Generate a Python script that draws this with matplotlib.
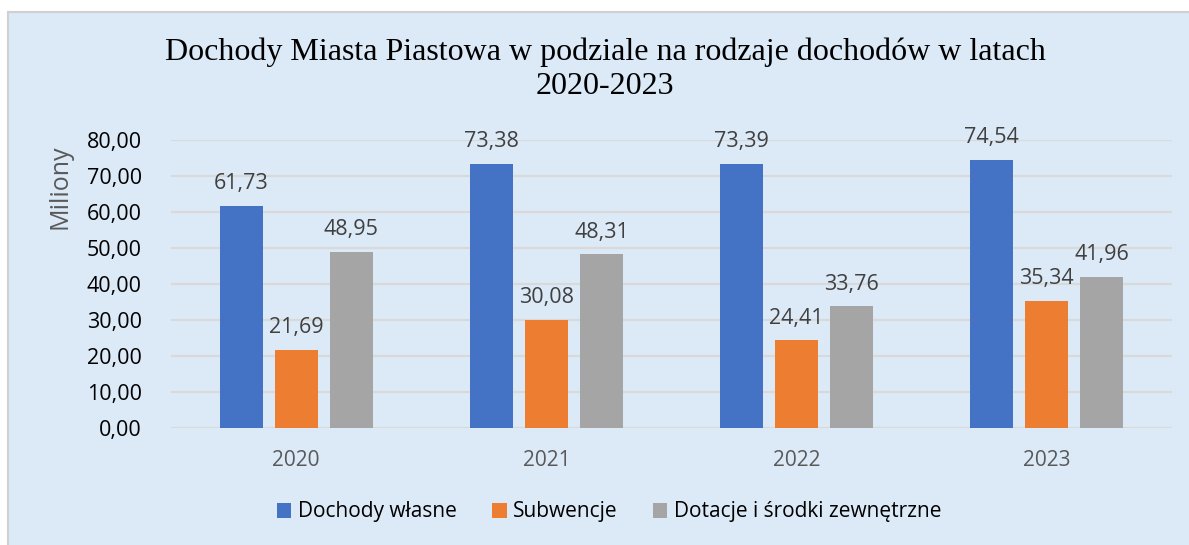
import numpy as np
import matplotlib.pyplot as plt
from matplotlib.patches import Rectangle

years = ["2020", "2021", "2022", "2023"]
series_names = ["Dochody własne", "Subwencje", "Dotacje i środki zewnętrzne"]
dochody_wlasne = [61.73, 73.38, 73.39, 74.54]
subwencje = [21.69, 30.08, 24.41, 35.34]
dotacje = [48.95, 48.31, 33.76, 41.96]
yticks = [0, 10, 20, 30, 40, 50, 60, 70, 80]

colors = ["#4472C4", "#ED7D31", "#A5A5A5"]
W, H = 1189, 545


def fmt(v):
    return f"{v:.2f}".replace(".", ",")


fig = plt.figure(figsize=(W / 100, H / 100), dpi=100)
fig.patch.set_facecolor("white")

# tło wykresu (obszar wykresu z Excela) - osobne osie pod spodem
bg_ax = fig.add_axes([0, 0, 1, 1], zorder=-5)
bg_ax.set_xlim(0, W)
bg_ax.set_ylim(H, 0)
bg_ax.axis("off")
bg_ax.add_patch(Rectangle((8, 12), W - 8, H - 12, facecolor="#DCE9F7",
                          edgecolor="none"))
bg_ax.plot([8, 8], [12, H], color="#D0D0D0", lw=1.5)
bg_ax.plot([8, W], [12, 12], color="#D0D0D0", lw=1.5)

ax = fig.add_axes([171 / W, 1 - 428 / H, (1172 - 171) / W, (428 - 140) / H])
ax.set_facecolor("none")

x = np.arange(len(years))
bw = 0.172
step = 0.22
for i, (vals, c) in enumerate(zip([dochody_wlasne, subwencje, dotacje], colors)):
    pos = x + (i - 1) * step
    ax.bar(pos, vals, width=bw, color=c, label=series_names[i], zorder=3)
    for p, v in zip(pos, vals):
        ax.text(p, v + 3.2, fmt(v), ha="center", va="bottom", fontsize=15.5,
                color="#404040", family="Open Sans")

ax.set_xlim(-0.5, 3.5)
ax.set_ylim(0, 80)
ax.set_yticks(yticks)
ax.set_yticklabels([fmt(v) for v in yticks], fontsize=15.5, family="Open Sans", color="#000000")
ax.set_xticks(x)
ax.set_xticklabels(years, fontsize=15, family="Open Sans", color="#595959")
ax.tick_params(length=0)
ax.tick_params(axis="y", pad=21)
ax.tick_params(axis="x", pad=16)
ax.yaxis.grid(True, color="#D9D9D9", lw=1.6, zorder=1)
ax.set_axisbelow(True)
for s in ax.spines.values():
    s.set_visible(False)

fig.text(60 / W, 1 - 187 / H, "Miliony", rotation=90, ha="center", va="center",
         fontsize=18, family="Open Sans", color="#595959")

fig.text(605 / W, 1 - 52 / H, "Dochody Miasta Piastowa w podziale na rodzaje dochodów w latach",
         ha="center", va="center", fontsize=23, family="Liberation Serif", color="#000000")
fig.text(605 / W, 1 - 86 / H, "2020-2023",
         ha="center", va="center", fontsize=23, family="Liberation Serif", color="#000000")

leg = fig.legend(loc="center", bbox_to_anchor=(609 / W, 1 - 512 / H), ncol=3, frameon=False,
                 prop={"family": "Open Sans", "size": 15}, handlelength=0.7, handleheight=0.7,
                 handletextpad=0.3, columnspacing=1.7)

fig.savefig("out.png", dpi=100, facecolor=fig.get_facecolor())
